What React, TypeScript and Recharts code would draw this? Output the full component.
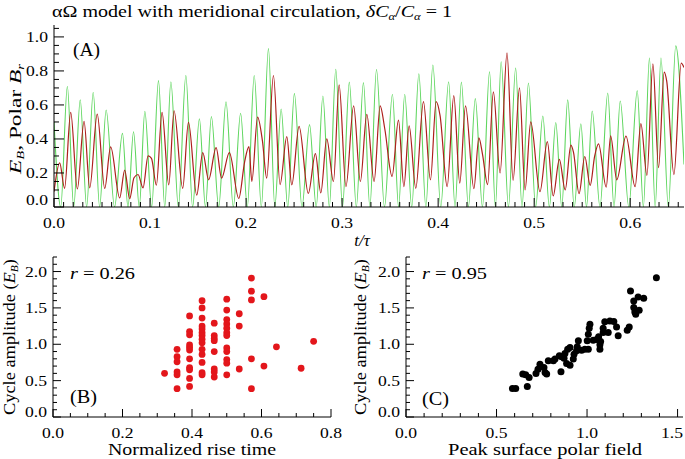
import { LineChart, Line, XAxis, YAxis, ScatterChart, Scatter } from "recharts";

const FONT = "Liberation Serif, DejaVu Serif, Times New Roman, serif";

// panel A at each peak / trough (t/tau, value)
const energyB: [number, number][] = [
  [0, 0.09], [0.0059, 0.26], [0.011, 0.11], [0.0174, 0.556], [0.0243, 0.106], [0.0313, 0.503],
  [0.0372, 0.113], [0.045, 0.546], [0.0528, 0.109], [0.059, 0.353], [0.0684, 0.053], [0.0736, 0.217],
  [0.0788, 0.049], [0.0833, 0.172], [0.0875, 0.191], [0.0927, 0.113], [0.098, 0.3], [0.1015, 0.286],
  [0.1066, 0.128], [0.1125, 0.556], [0.1195, 0.13], [0.125, 0.566], [0.134, 0.11], [0.14, 0.497],
  [0.1486, 0.07], [0.1549, 0.32], [0.161, 0.16], [0.1688, 0.349], [0.1745, 0.17], [0.1826, 0.32],
  [0.1924, 0.05], [0.1985, 0.266], [0.203, 0.355], [0.206, 0.15], [0.212, 0.528], [0.217, 0.39],
  [0.2215, 0.17], [0.2285, 0.773], [0.2354, 0.132], [0.2424, 0.414], [0.2476, 0.13], [0.2552, 0.474],
  [0.2648, 0.08], [0.2722, 0.314], [0.2778, 0.083], [0.284, 0.4], [0.291, 0.15], [0.2969, 0.718],
  [0.304, 0.12], [0.312, 0.594], [0.319, 0.15], [0.3257, 0.544], [0.3333, 0.15], [0.3396, 0.595],
  [0.3445, 0.457], [0.352, 0.18], [0.3587, 0.511], [0.3643, 0.12], [0.3698, 0.477], [0.3767, 0.11],
  [0.3847, 0.62], [0.392, 0.16], [0.3979, 0.619], [0.402, 0.537], [0.4094, 0.12], [0.4163, 0.655],
  [0.4225, 0.14], [0.4285, 0.595], [0.4372, 0.108], [0.4424, 0.406], [0.4462, 0.31], [0.4515, 0.132],
  [0.4575, 0.677], [0.4645, 0.2], [0.4717, 0.906], [0.478, 0.157], [0.4847, 0.7], [0.4905, 0.1],
  [0.4964, 0.5], [0.506, 0.09], [0.5137, 0.384], [0.5198, 0.065], [0.5262, 0.28], [0.5323, 0.1],
  [0.5382, 0.364], [0.541, 0.32], [0.5467, 0.078], [0.5527, 0.297], [0.5583, 0.127], [0.563, 0.3],
  [0.567, 0.371], [0.575, 0.117], [0.5796, 0.418], [0.586, 0.16], [0.5956, 0.417], [0.6051, 0.12],
  [0.6111, 0.49], [0.6174, 0.186], [0.6236, 0.842], [0.6295, 0.231], [0.6354, 0.793], [0.638, 0.74],
  [0.6455, 0.19], [0.6531, 0.846], [0.656, 0.82],
];

const polarBr: [number, number][] = [
  [0, 0.5], [0.007, 0], [0.0139, 0.71], [0.0205, 0], [0.0273, 0.63], [0.034, 0], [0.0408, 0.675],
  [0.0475, 0], [0.0543, 0.57], [0.063, 0], [0.0713, 0.433], [0.077, 0], [0.0828, 0.442], [0.0888, 0],
  [0.0946, 0.563], [0.1017, 0], [0.1088, 0.743], [0.1153, 0], [0.1217, 0.736], [0.1295, 0],
  [0.1373, 0.773], [0.1443, 0], [0.1514, 0.519], [0.1577, 0], [0.1639, 0.532], [0.1715, 0],
  [0.1791, 0.619], [0.1867, 0], [0.1943, 0.551], [0.2013, 0], [0.2085, 0.773], [0.2159, 0],
  [0.2233, 0.931], [0.2299, 0], [0.2365, 0.576], [0.2434, 0], [0.2503, 0.668], [0.2582, 0],
  [0.2661, 0.484], [0.273, 0], [0.28, 0.653], [0.2867, 0], [0.2934, 0.81], [0.3004, 0],
  [0.3075, 0.734], [0.3148, 0], [0.3222, 0.731], [0.3289, 0], [0.3358, 0.808], [0.3441, 0],
  [0.3524, 0.663], [0.3588, 0], [0.3652, 0.663], [0.3725, 0], [0.3799, 0.783], [0.3872, 0],
  [0.3945, 0.835], [0.4027, 0], [0.4109, 0.736], [0.4176, 0], [0.4242, 0.734], [0.4315, 0],
  [0.4387, 0.637], [0.4461, 0], [0.4535, 0.795], [0.4596, 0], [0.4656, 0.854], [0.4732, 0],
  [0.4807, 0.817], [0.4873, 0], [0.494, 0.729], [0.5015, 0], [0.509, 0.535], [0.5158, 0],
  [0.5225, 0.497], [0.5287, 0], [0.5349, 0.63], [0.5417, 0], [0.5486, 0.489], [0.5545, 0],
  [0.5604, 0.564], [0.5685, 0], [0.5766, 0.67], [0.5831, 0], [0.5896, 0.623], [0.5985, 0],
  [0.6073, 0.684], [0.6137, 0], [0.62, 0.876], [0.626, 0], [0.632, 0.876], [0.6397, 0],
  [0.6474, 0.947], [0.656, 0.25],
];

// panel B
const riseTime = [
  0.321,
  0.357, 0.357, 0.357, 0.357, 0.357, 0.357,
  0.393, 0.393, 0.393, 0.393, 0.393, 0.393, 0.393, 0.393, 0.393, 0.393, 0.393,
  0.429, 0.429, 0.429, 0.429, 0.429, 0.429, 0.429, 0.429, 0.429, 0.429, 0.429, 0.429, 0.429, 0.429,
  0.464, 0.464, 0.464, 0.464, 0.464, 0.464, 0.464, 0.464,
  0.5, 0.5, 0.5, 0.5, 0.5, 0.5, 0.5, 0.5, 0.5, 0.5, 0.5, 0.5,
  0.536, 0.536, 0.536,
  0.571, 0.571, 0.571, 0.571, 0.571,
  0.607, 0.607,
  0.643, 0.714, 0.75,
];
const amplitudeB = [
  0.6,
  0.93, 0.83, 0.76, 0.62, 0.58, 0.39,
  1.39, 1.175, 1.13, 0.99, 0.955, 0.92, 0.8, 0.68, 0.65, 0.53, 0.42,
  1.6, 1.5, 1.36, 1.25, 1.21, 1.16, 1.12, 1.07, 1.02, 0.93, 0.86, 0.75, 0.61, 0.58,
  1.29, 1.12, 1.08, 1.05, 0.9, 0.66, 0.62, 0.55,
  1.62, 1.47, 1.34, 1.28, 1.22, 1.16, 1.12, 0.95, 0.9, 0.79, 0.74, 0.58,
  1.42, 1.25, 0.66,
  1.91, 1.73, 1.61, 0.8, 0.39,
  1.655, 0.7,
  0.965, 0.67, 1.04,
];

// panel C
const peakPolar = [
  0.588, 0.606, 0.645, 0.661, 0.67, 0.68, 0.718, 0.729, 0.74, 0.762,
  0.768, 0.777, 0.786, 0.814, 0.823, 0.847, 0.86, 0.878, 0.893, 0.906,
  0.856, 0.873, 0.887, 0.906, 0.924, 0.928, 0.942, 0.946, 0.952, 0.97,
  0.988, 1.007, 1.001, 1.034, 1.053, 1.064, 1.007, 1.012, 1.016, 1.071,
  1.071, 1.075, 1.089, 1.089, 1.098, 1.117, 1.126, 1.148, 1.163, 1.172,
  1.222, 1.233, 1.24, 1.258, 1.258, 1.264, 1.269, 1.282, 1.288, 1.313, 1.383,
];
const amplitudeC = [
  0.393, 0.393, 0.59, 0.581, 0.421, 0.544, 0.599, 0.658, 0.727, 0.681,
  0.613, 0.59, 0.773, 0.773, 0.796, 0.841, 0.828, 0.873, 0.933, 0.956,
  0.622, 0.809, 0.736, 0.713, 0.796, 0.864, 0.91, 0.965, 1.047, 0.919,
  0.933, 0.933, 1.047, 1.056, 1.065, 1.102, 1.139, 1.221, 1.276, 0.933,
  0.992, 1.038, 1.161, 1.221, 1.308, 1.161, 1.321, 1.312, 1.239, 1.116,
  1.193, 1.239, 1.733, 1.596, 1.504, 1.445, 1.413, 1.651, 1.468, 1.632, 1.916,
];

const tTicks = [0, 0.1, 0.2, 0.3, 0.4, 0.5, 0.6];
const aTicks = [0, 0.2, 0.4, 0.6, 0.8, 1.0];
const ampTicks = [0, 0.5, 1.0, 1.5, 2.0];
const riseTicks = [0, 0.2, 0.4, 0.6, 0.8];
const peakTicks = [0, 0.5, 1.0, 1.5];

// tick positions (major + minor) for the IDL-style frame
function steps(lo: number, hi: number, step: number) {
  const out: number[] = [];
  for (let v = lo; v <= hi + 1e-9; v += step) out.push(Math.round(v * 1000) / 1000);
  return out;
}

const energyData = energyB.map(([t, v]) => ({ t, v }));
const polarData = polarBr.map(([t, v]) => ({ t, v }));
const pointsB = riseTime.map((x, i) => ({ x, y: amplitudeB[i] }));
const pointsC = peakPolar.map((x, i) => ({ x, y: amplitudeC[i] }));

const TICK_FS = 15;
const STRETCH = "spacingAndGlyphs";

function FrameTick(props: any) {
  const { x, y, payload, side, majors, big, small, label, lift = 0, maxX = 9999 } = props;
  const v = payload.value;
  const isMajor = majors.some((m: number) => Math.abs(m - v) < 1e-6);
  const len = isMajor ? big : small;
  let x2 = x;
  let y2 = y;
  if (side === "bottom") y2 = y - len;
  if (side === "top") y2 = y + len;
  if (side === "left") x2 = x + len;
  if (side === "right") x2 = x - len;
  let text = null;
  if (label && isMajor) {
    const s = v.toFixed(1);
    if (side === "bottom")
      text = (
        <text x={Math.min(x, maxX) - 11} y={y + 21} fontSize={TICK_FS} fontFamily={FONT} fill="#000" textLength={22} lengthAdjust={STRETCH}>
          {s}
        </text>
      );
    if (side === "left")
      text = (
        <text x={x - 28} y={y + 5 - (v === 0 ? lift : 0)} fontSize={TICK_FS} fontFamily={FONT} fill="#000" textLength={22} lengthAdjust={STRETCH}>
          {s}
        </text>
      );
  }
  return (
    <g>
      <line x1={x} y1={y} x2={x2} y2={y2} stroke="#000" strokeWidth={1} />
      {text}
    </g>
  );
}

function frameX(id: string, side: string, domain: number[], ticks: number[], majors: number[], big: number, small: number) {
  return (
    <XAxis
      xAxisId={id}
      orientation={side as any}
      type="number"
      domain={domain}
      allowDataOverflow
      ticks={ticks}
      interval={0}
      height={0}
      tickSize={0}
      tickMargin={0}
      tickLine={false}
      axisLine={{ stroke: "#000" }}
      tick={(p: any) => <FrameTick {...p} side={side} majors={majors} big={big} small={small} />}
    />
  );
}

function frameY(id: string, side: string, domain: number[], ticks: number[], majors: number[], big: number, small: number) {
  return (
    <YAxis
      yAxisId={id}
      orientation={side as any}
      type="number"
      domain={domain}
      allowDataOverflow
      ticks={ticks}
      interval={0}
      width={0}
      tickSize={0}
      tickMargin={0}
      tickLine={false}
      axisLine={{ stroke: "#000" }}
      tick={(p: any) => <FrameTick {...p} side={side} majors={majors} big={big} small={small} />}
    />
  );
}

const dotB = (p: any) => <circle cx={p.cx} cy={p.cy} r={3.4} fill="#e3161b" />;
const dotC = (p: any) => <circle cx={p.cx} cy={p.cy} r={3.5} fill="#000" />;

function PanelA() {
  const tDom = [0, 0.656];
  const aDom = [0, 1.07];
  const tAll = steps(0, 0.65, 0.01);
  const aAll = steps(0, 1.05, 0.05);
  return (
    <LineChart width={685} height={250} margin={{ top: 25, right: 1, left: 0, bottom: 0 }}>
      <XAxis
        xAxisId="main"
        dataKey="t"
        type="number"
        domain={tDom}
        allowDataOverflow
        ticks={tAll}
        interval={0}
        height={43}
        tickSize={0}
        tickMargin={0}
        tickLine={false}
        axisLine={{ stroke: "#000" }}
        tick={(p: any) => <FrameTick {...p} side="bottom" majors={tTicks} big={9} small={5} label />}
      />
      {frameX("top", "top", tDom, tAll, tTicks, 9, 5)}
      <YAxis
        yAxisId="main"
        type="number"
        domain={aDom}
        allowDataOverflow
        ticks={aAll}
        interval={0}
        width={54}
        tickSize={0}
        tickMargin={0}
        tickLine={false}
        axisLine={{ stroke: "#000" }}
        tick={(p: any) => <FrameTick {...p} side="left" majors={aTicks} big={10} small={5} label lift={7} />}
      />
      {frameY("right", "right", aDom, aAll, aTicks, 10, 5)}
      <Line
        xAxisId="main"
        yAxisId="main"
        data={polarData}
        dataKey="v"
        type="monotone"
        stroke="#5fd65f"
        strokeWidth={1.1}
        dot={false}
        isAnimationActive={false}
      />
      <Line
        xAxisId="main"
        yAxisId="main"
        data={energyData}
        dataKey="v"
        type="monotone"
        stroke="#ad1f1c"
        strokeWidth={1.2}
        dot={false}
        isAnimationActive={false}
      />
    </LineChart>
  );
}

function ScatterPanel({ data, xDom, xMajor, xStep, yWidth, right, shape, maxX }: any) {
  const yDom = [0, 2.2];
  const yAll = steps(0, 2.2, 0.1);
  const xAll = steps(0, xDom[1], xStep);
  return (
    <ScatterChart width={345} height={219} margin={{ top: 17, right, left: 0, bottom: 0 }}>
      <XAxis
        xAxisId="main"
        dataKey="x"
        type="number"
        domain={xDom}
        allowDataOverflow
        ticks={xAll}
        interval={0}
        height={42}
        tickSize={0}
        tickMargin={0}
        tickLine={false}
        axisLine={{ stroke: "#000" }}
        tick={(p: any) => <FrameTick {...p} side="bottom" majors={xMajor} big={8} small={4} label maxX={maxX} />}
      />
      {frameX("top", "top", xDom, xAll, xMajor, 8, 4)}
      <YAxis
        yAxisId="main"
        dataKey="y"
        type="number"
        domain={yDom}
        allowDataOverflow
        ticks={yAll}
        interval={0}
        width={yWidth}
        tickSize={0}
        tickMargin={0}
        tickLine={false}
        axisLine={{ stroke: "#000" }}
        tick={(p: any) => <FrameTick {...p} side="left" majors={ampTicks} big={8} small={4} label lift={5} />}
      />
      {frameY("right", "right", yDom, yAll, ampTicks, 8, 4)}
      <Scatter xAxisId="main" yAxisId="main" data={data} shape={shape} isAnimationActive={false} />
    </ScatterChart>
  );
}

function Sub({ children, size = 10 }: any) {
  return (
    <tspan fontSize={size} dy={3} fontStyle="italic">
      {children}
    </tspan>
  );
}

function Labels() {
  const t = { fontFamily: FONT, fill: "#000", lengthAdjust: STRETCH } as const;
  return (
    <svg width={685} height={459} style={{ position: "absolute", left: 0, top: 0, pointerEvents: "none" }}>
      <text x={52} y={17} fontSize={16} textLength={400} {...t}>
        αΩ model with meridional circulation, <tspan fontStyle="italic">δC</tspan>
        <Sub>α</Sub>
        <tspan dy={-3}>/</tspan>
        <tspan fontStyle="italic">C</tspan>
        <Sub>α</Sub>
        <tspan dy={-3}> = 1</tspan>
      </text>
      <text x={73} y={56} fontSize={19} textLength={27} {...t}>(A)</text>
      <text transform="translate(21,119) rotate(-90)" textAnchor="middle" fontSize={16} textLength={110} {...t}>
        <tspan fontStyle="italic">E</tspan>
        <Sub>B</Sub>
        <tspan dy={-3}>, Polar </tspan>
        <tspan fontStyle="italic">B</tspan>
        <Sub>r</Sub>
      </text>
      <text x={362} y={246} textAnchor="middle" fontSize={17} fontStyle="italic" {...t}>
        t/τ
      </text>

      <text x={70} y={279} fontSize={16} textLength={65} {...t}>
        <tspan fontStyle="italic">r</tspan> = 0.26
      </text>
      <text x={70} y={403} fontSize={18} textLength={27} {...t}>(B)</text>
      <text x={192} y={455} textAnchor="middle" fontSize={16} textLength={168} {...t}>
        Normalized rise time
      </text>
      <text transform="translate(15,337) rotate(-90)" textAnchor="middle" fontSize={16} textLength={156} {...t}>
        Cycle amplitude (<tspan fontStyle="italic">E</tspan>
        <Sub>B</Sub>
        <tspan dy={-3}>)</tspan>
      </text>

      <text x={422} y={279} fontSize={16} textLength={65} {...t}>
        <tspan fontStyle="italic">r</tspan> = 0.95
      </text>
      <text x={422} y={405} fontSize={18} textLength={27} {...t}>(C)</text>
      <text x={545} y={455} textAnchor="middle" fontSize={16} textLength={194} {...t}>
        Peak surface polar field
      </text>
      <text transform="translate(366,337) rotate(-90)" textAnchor="middle" fontSize={16} textLength={156} {...t}>
        Cycle amplitude (<tspan fontStyle="italic">E</tspan>
        <Sub>B</Sub>
        <tspan dy={-3}>)</tspan>
      </text>
    </svg>
  );
}

export default function App() {
  return (
    <div style={{ position: "absolute", left: 0, top: 0, width: 685, height: 459, background: "#fff", fontFamily: FONT }}>
      <div style={{ position: "absolute", left: 0, top: 0 }}>
        <PanelA />
      </div>
      <div style={{ position: "absolute", left: 0, top: 240 }}>
        <ScatterPanel data={pointsB} xDom={[0, 0.8]} xMajor={riseTicks} xStep={0.05} yWidth={53} right={14} shape={dotB} />
      </div>
      <div style={{ position: "absolute", left: 340, top: 240 }}>
        <ScatterPanel data={pointsC} xDom={[0, 1.53]} xMajor={peakTicks} xStep={0.1} yWidth={66} right={2} shape={dotC} maxX={332} />
      </div>
      <Labels />
    </div>
  );
}
